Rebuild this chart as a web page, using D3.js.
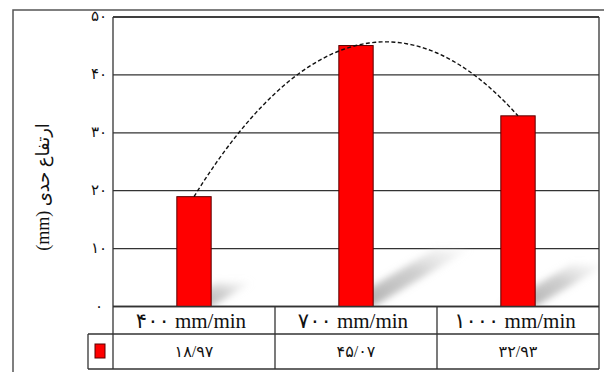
<!DOCTYPE html>
<html><head><meta charset="utf-8">
<script src="https://cdn.jsdelivr.net/npm/d3@7"></script>
<style>
html,body{margin:0;padding:0;background:#fff;}
svg{display:block;}
</style></head>
<body>
<svg id="chart" width="604" height="372"></svg>
<script>
const categories = ["۴۰۰ mm/min", "۷۰۰ mm/min", "۱۰۰۰ mm/min"];
const values = [18.97, 45.07, 32.93];
const valueLabels = ["۱۸/۹۷", "۴۵/۰۷", "۳۲/۹۳"];
const yTicks = [0, 10, 20, 30, 40, 50];
const yTickLabels = ["۰", "۱۰", "۲۰", "۳۰", "۴۰", "۵۰"];
const yTitle = "(mm) ارتفاع حدی";

(function () {
const svg = d3.select("#chart");
const pLeft = 113, pRight = 599, pTop = 17, base = 306.5;
const row1 = 334, row2 = 369, legendLeft = 88;

const x = d3.scaleBand().domain(categories).range([pLeft, pRight]).padding(0);
const y = d3.scaleLinear().domain([0, 50]).range([base, pTop]);
const bw = x.bandwidth() * 0.212;

const defs = svg.append("defs");
const blur = defs.append("filter").attr("id", "blur").attr("x", "-50%").attr("y", "-50%").attr("width", "200%").attr("height", "200%");
blur.append("feGaussianBlur").attr("stdDeviation", 3.5);
const grad = defs.append("linearGradient").attr("id", "sg").attr("x1", "0").attr("y1", "1").attr("x2", "1").attr("y2", "0");
grad.append("stop").attr("offset", "0").attr("stop-color", "#999").attr("stop-opacity", 0.85);
grad.append("stop").attr("offset", "0.6").attr("stop-color", "#b0b0b0").attr("stop-opacity", 0.6);
grad.append("stop").attr("offset", "1").attr("stop-color", "#e0e0e0").attr("stop-opacity", 0.15);
defs.append("clipPath").attr("id", "plotclip").append("rect")
  .attr("x", pLeft).attr("y", pTop).attr("width", pRight - pLeft).attr("height", base - pTop);

// outer frame
svg.append("path").attr("d", `M13,372 L13,10 L604,10`).attr("fill", "none").attr("stroke", "#555").attr("stroke-width", 1.5);

// gridlines
svg.append("g").selectAll("line").data(yTicks).join("line")
  .attr("x1", pLeft).attr("x2", pRight).attr("y1", d => y(d)).attr("y2", d => y(d))
  .attr("stroke", "#333").attr("stroke-width", 1.3);

// shadows
const sh = svg.append("g").attr("clip-path", "url(#plotclip)");
categories.forEach((c, i) => {
  const cx = x(c) + x.bandwidth() / 2;
  const h = base - y(values[i]);
  const dy = h * 0.22, dx = dy * 1.68;
  const x0 = cx - bw / 2, x1 = cx + bw / 2;
  sh.append("path")
    .attr("d", `M${x0},${base} L${x1},${base} L${x1 + dx},${base - dy} L${x0 + dx},${base - dy} Z`)
    .attr("fill", "url(#sg)").attr("filter", "url(#blur)");
});

// bars
svg.append("g").selectAll("rect").data(values).join("rect")
  .attr("x", (d, i) => x(categories[i]) + x.bandwidth() / 2 - bw / 2)
  .attr("y", d => y(d))
  .attr("width", bw)
  .attr("height", d => base - y(d))
  .attr("fill", "#ff0000").attr("stroke", "#5a0000").attr("stroke-width", 1);

// quadratic trendline (least squares through the data)
const n = values.length;
const xs = d3.range(n);
const sums = (p) => d3.sum(xs, v => Math.pow(v, p));
const sumsY = (p) => d3.sum(xs, (v, i) => Math.pow(v, p) * values[i]);
function solve3(A, b) {
  const M = A.map((r, i) => r.concat([b[i]]));
  for (let i = 0; i < 3; i++) {
    let p = i; for (let k = i + 1; k < 3; k++) if (Math.abs(M[k][i]) > Math.abs(M[p][i])) p = k;
    [M[i], M[p]] = [M[p], M[i]];
    for (let k = 0; k < 3; k++) if (k !== i) { const f = M[k][i] / M[i][i]; for (let j = i; j < 4; j++) M[k][j] -= f * M[i][j]; }
  }
  return M.map((r, i) => r[3] / r[i]);
}
const coef = solve3([[n, sums(1), sums(2)], [sums(1), sums(2), sums(3)], [sums(2), sums(3), sums(4)]], [sumsY(0), sumsY(1), sumsY(2)]);
const xi = d3.scaleLinear().domain([0, n - 1]).range([x(categories[0]) + x.bandwidth() / 2, x(categories[n - 1]) + x.bandwidth() / 2]);
const pts = d3.range(0, n - 1 + 1e-9, 0.02).map(t => [xi(t), y(coef[0] + coef[1] * t + coef[2] * t * t)]);
svg.append("path").attr("d", d3.line()(pts)).attr("fill", "none")
  .attr("stroke", "#111").attr("stroke-width", 1.4).attr("stroke-dasharray", "4,2.4");

// plot frame & table lines
const g = svg.append("g").attr("stroke", "#333").attr("stroke-width", 1.3).attr("fill", "none");
g.append("line").attr("x1", pLeft).attr("x2", pLeft).attr("y1", pTop).attr("y2", row2);
g.append("line").attr("x1", pRight).attr("x2", pRight).attr("y1", pTop).attr("y2", row2);
g.append("line").attr("x1", pLeft).attr("x2", pRight).attr("y1", pTop).attr("y2", pTop);
g.append("line").attr("x1", pLeft).attr("x2", pRight).attr("y1", base).attr("y2", base);
g.append("line").attr("x1", legendLeft).attr("x2", pRight).attr("y1", row1).attr("y2", row1);
g.append("line").attr("x1", legendLeft).attr("x2", pRight).attr("y1", row2).attr("y2", row2);
g.append("line").attr("x1", legendLeft).attr("x2", legendLeft).attr("y1", row1).attr("y2", row2);
categories.slice(1).forEach(c => {
  g.append("line").attr("x1", x(c)).attr("x2", x(c)).attr("y1", base).attr("y2", row2);
});

// legend key
svg.append("rect").attr("x", 95).attr("y", 344).attr("width", 10).attr("height", 14)
  .attr("fill", "#ff0000").attr("stroke", "#5a0000").attr("stroke-width", 1);

const fontF = "'Liberation Serif', 'DejaVu Sans', serif";
// category labels
svg.append("g").selectAll("text").data(categories).join("text")
  .attr("x", d => x(d) + x.bandwidth() / 2 - 3).attr("y", base + 21)
  .attr("text-anchor", "middle").attr("font-family", fontF).attr("font-size", 21).attr("fill", "#111")
  .text(d => d);
// value labels
svg.append("g").selectAll("text").data(valueLabels).join("text")
  .attr("x", (d, i) => x(categories[i]) + x.bandwidth() / 2).attr("y", row1 + 23)
  .attr("text-anchor", "middle").attr("font-family", fontF).attr("font-size", 16).attr("fill", "#111")
  .text(d => d);

// y tick labels
svg.append("g").selectAll("text").data(yTicks).join("text")
  .attr("x", 99).attr("y", d => y(d) + 4)
  .attr("text-anchor", "middle").attr("font-family", fontF).attr("font-size", 15).attr("fill", "#111")
  .text((d, i) => yTickLabels[i]);

// y title
svg.append("text").attr("transform", `translate(49,${187}) rotate(-90)`)
  .attr("text-anchor", "middle").attr("font-family", fontF).attr("font-size", 18).attr("fill", "#111")
  .text(yTitle);
})();
</script>
</body></html>
